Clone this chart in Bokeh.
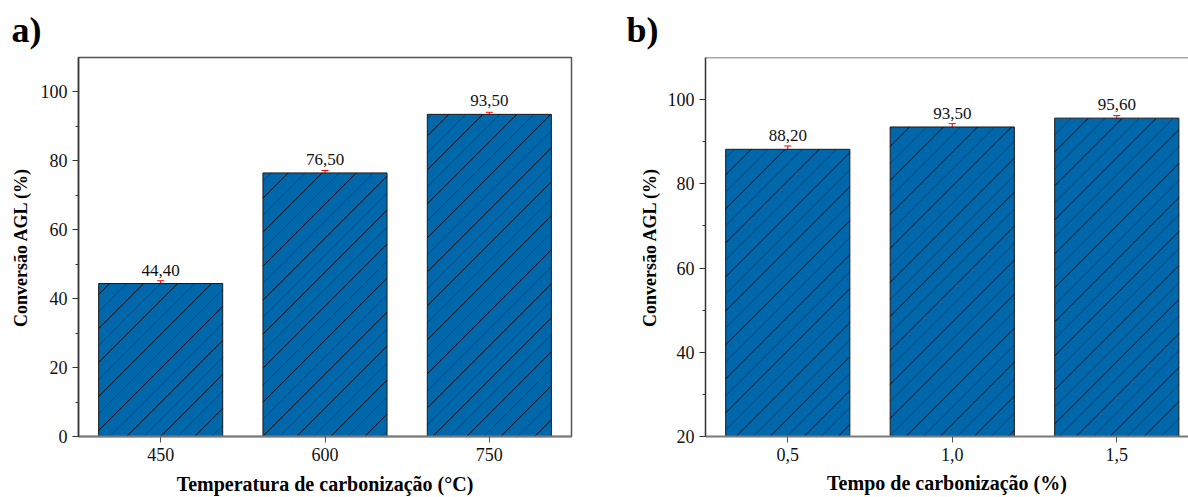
import math
from bokeh.plotting import figure
from bokeh.layouts import row
from bokeh.models import (ColumnDataSource, FixedTicker, Whisker, TeeHead, LabelSet,
                          Title, Span, Range1d)
from bokeh.embed import file_html
from bokeh.resources import INLINE

# ---- data ----
temp_labels = ["450", "600", "750"]
temp_values = [44.40, 76.50, 93.50]
temp_errors = [0.8, 0.7, 0.6]

time_labels = ["0,5", "1,0", "1,5"]
time_values = [88.20, 93.50, 95.60]
time_errors = [0.8, 0.8, 0.6]

yticks_a = [0, 20, 40, 60, 80, 100]
yminor_a = [10, 30, 50, 70, 90]
yticks_b = [20, 40, 60, 80, 100]
yminor_b = [30, 50, 70, 90]

FONT = "Liberation Serif"
BAR = "#0067AB"
BAR_W = 0.755
HATCH_PX = 34  # horizontal spacing of dark hatch lines in pixels


def fmt(v):
    return f"{v:.2f}".replace(".", ",")


def hatch_sources(xs, tops, bottom, sx, sy, d):
    """45-degree '/' hatch lines clipped to each bar (computed from bar data)."""
    dark = dict(x0=[], y0=[], x1=[], y1=[])
    faint = dict(x0=[], y0=[], x1=[], y1=[])
    h = d / 2
    for xc, top in zip(xs, tops):
        X0, X1 = (xc - BAR_W / 2) * sx, (xc + BAR_W / 2) * sx
        Y0, Y1 = bottom * sy, top * sy
        k0 = math.floor((Y0 - X1) / h)
        k1 = math.ceil((Y1 - X0) / h)
        for k in range(k0, k1 + 1):
            c = k * h
            xa = max(X0, Y0 - c)
            xb = min(X1, Y1 - c)
            if xb - xa <= 0.5:
                continue
            tgt = dark if k % 2 == 0 else faint
            tgt["x0"].append(xa / sx)
            tgt["y0"].append((xa + c) / sy)
            tgt["x1"].append(xb / sx)
            tgt["y1"].append((xb + c) / sy)
    return ColumnDataSource(dark), ColumnDataSource(faint)


def panel(tag, tag_x, labels, values, errors, yr, yt, ym, xlabel, width, left, right,
          xend, xstand, ystand):
    x = list(range(len(labels)))
    src = ColumnDataSource(dict(
        x=x, top=values,
        upper=[v + e for v, e in zip(values, errors)],
        lower=[v - e for v, e in zip(values, errors)],
        lab=[fmt(v) for v in values],
    ))
    frame_w = width - left - right
    frame_h = 497 - 57 - 61
    sx = frame_w / (xend + 0.5)
    sy = frame_h / (yr[1] - yr[0])

    p = figure(width=width, height=497, output_backend="svg", toolbar_location=None,
               x_range=Range1d(-0.5, xend), y_range=Range1d(*yr),
               min_border_left=left, min_border_right=right,
               min_border_top=57, min_border_bottom=61)
    p.title = Title(text=tag, align="left", text_font=FONT, text_font_size="36px",
                    text_font_style="bold", text_color="black", offset=-(left - tag_x),
                    standoff=15)
    p.xgrid.visible = False
    p.ygrid.visible = False
    p.background_fill_color = "white"
    p.border_fill_color = "white"

    p.vbar(x="x", top="top", bottom=0, width=BAR_W, source=src, fill_color=BAR,
           line_color=None)
    dark, faint = hatch_sources(x, values, max(0, yr[0]), sx, sy, HATCH_PX)
    p.segment("x0", "y0", "x1", "y1", source=faint, line_color="#0b3558",
              line_alpha=0.75, line_width=1)
    p.segment("x0", "y0", "x1", "y1", source=dark, line_color="#060606",
              line_alpha=0.95, line_width=1)
    p.vbar(x="x", top="top", bottom=0, width=BAR_W, source=src, fill_color=None,
           line_color="#1a1a1a", line_width=1)

    p.add_layout(Whisker(base="x", upper="upper", lower="lower", source=src,
                         line_color="red", line_width=1,
                         upper_head=TeeHead(size=7, line_color="red", line_width=1),
                         lower_head=TeeHead(size=7, line_color="red", line_width=1)))
    p.add_layout(LabelSet(x="x", y="top", text="lab", source=src, y_offset=8,
                          text_align="center", text_baseline="alphabetic",
                          text_font=FONT, text_font_size="17px", text_color="#111"))

    p.xaxis.ticker = FixedTicker(ticks=x)
    p.xaxis.major_label_overrides = {i: l for i, l in enumerate(labels)}
    p.yaxis.ticker = FixedTicker(ticks=yt, minor_ticks=ym)

    for ax in (p.xaxis, p.yaxis):
        ax.major_label_text_font = FONT
        ax.major_label_text_font_size = "18px"
        ax.major_label_text_color = "#111"
        ax.axis_label_text_font = FONT
        ax.axis_label_text_font_style = "bold"
        ax.axis_label_text_color = "black"
        ax.major_tick_in = 0
        ax.major_tick_out = 6
        ax.minor_tick_in = 0
        ax.minor_tick_out = 3
        ax.major_label_standoff = 5
    p.xaxis.axis_label_text_font_size = "20px"
    p.yaxis.axis_label_text_font_size = "18px"
    p.xaxis.minor_tick_line_color = None
    p.xaxis.axis_line_color = "#7a7a7a"
    p.xaxis.axis_line_width = 2
    p.xaxis.major_tick_line_color = "#555"
    p.yaxis.axis_line_color = "#333"
    p.yaxis.axis_line_width = 1.5
    p.yaxis.major_tick_line_color = "#333"
    p.yaxis.minor_tick_line_color = "#333"
    p.xaxis.axis_label = xlabel
    p.yaxis.axis_label = "Conversão AGL (%)"
    p.xaxis.axis_label_standoff = xstand
    p.yaxis.axis_label_standoff = ystand
    return p


pa = panel("a)", 11, temp_labels, temp_values, temp_errors, (0, 110), yticks_a, yminor_a,
           "Temperatura de carbonização (°C)", 620, 78, 49, 2.5, 9, 7)
pa.outline_line_color = "#555"
pa.outline_line_width = 1.5

pb = panel("b)", 6, time_labels, time_values, time_errors, (20, 110), yticks_b, yminor_b,
           "Tempo de carbonização (%)", 568, 85, 0, 2.436, 8, 5)
pb.outline_line_color = None
pb.add_layout(Span(location=110, dimension="width", line_color="#555", line_width=1.5))

layout = row(pa, pb)
open("out.html", "w").write(file_html(layout, INLINE))
